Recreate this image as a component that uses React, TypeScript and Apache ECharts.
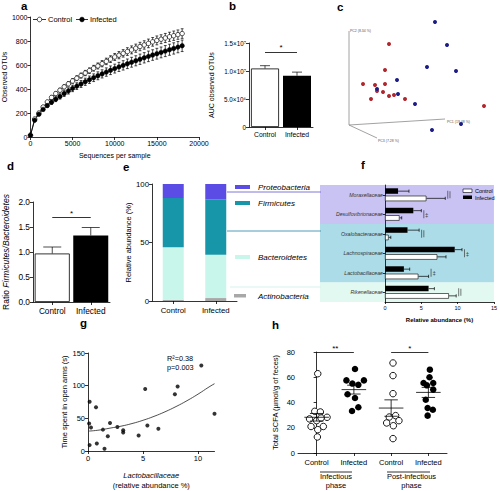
import React, { useEffect, useRef } from "react";
import * as echarts from "echarts";

const FONT = "'Liberation Sans', Arial, Helvetica, sans-serif";

// ---------- a: rarefaction curves ----------
const seqPerSample = [0, 500, 1000, 1500, 2000, 2500, 3000, 3500, 4000, 4500, 5000, 5500, 6000, 6500, 7000, 7500, 8000, 8500, 9000, 9500, 10000, 10500, 11000, 11500, 12000, 12500, 13000, 13500, 14000, 14500, 15000, 15500, 16000, 16500, 17000, 17500, 18000];
const otuControl = [15, 150, 200, 250, 292, 330, 362, 390, 418, 443, 467, 490, 512, 533, 553, 573, 592, 611, 630, 649, 667, 682, 697, 712, 726, 740, 754, 767, 780, 793, 805, 815, 825, 835, 844, 853, 862];
const otuControlSem = [0, 8, 10, 12, 13, 14, 15, 16, 17, 18, 19, 20, 21, 22, 23, 24, 25, 26, 27, 28, 29, 30, 31, 32, 33, 34, 35, 35, 36, 36, 37, 37, 38, 38, 39, 39, 40];
const otuInfected = [15, 140, 190, 230, 262, 290, 315, 338, 362, 384, 405, 424, 442, 460, 477, 494, 510, 526, 541, 556, 570, 584, 597, 610, 623, 635, 648, 660, 672, 683, 694, 705, 716, 727, 738, 749, 760];
const otuInfectedSem = [0, 10, 12, 14, 16, 18, 20, 22, 24, 26, 27, 28, 29, 30, 31, 32, 33, 34, 35, 36, 37, 38, 39, 40, 41, 42, 43, 43, 44, 44, 45, 45, 46, 46, 47, 47, 48];

// ---------- b: AUC ----------
const groups = ["Control", "Infected"];
const aucObserved = [1.045e7, 0.915e7];
const aucSem = [0.05e7, 0.065e7];
const aucSigLevel = 1.34e7;
const aucTickLabels: Record<number, string> = { 0: "0", 5000000: "5.0×10⁶", 10000000: "1.0×10⁷", 15000000: "1.5×10⁷" };

// ---------- c: PCoA (projected) ----------
const pcoaBlue = [[95, 123], [107, 100], [87, 78], [116, 74], [57, 65], [37, 56], [58, 51], [75, 41], [121, 21], [92, 15]];
const pcoaRed = [[49, 101], [45, 75], [23, 61], [35, 60], [45, 61], [37, 54], [43, 53], [49, 49], [54, 50], [31, 46], [65, 46], [144, 39]];
const pcoaAxisA = [[9, 114], [9, 20], [105, 26]];
const pcoaAxisB = [[9, 20], [37, 7]];

// ---------- d: F/B ratio ----------
const fbRatio = [0.97, 1.33];
const fbSem = [0.13, 0.16];
const fbSigLevel = 1.7;

// ---------- e: phyla ----------
const phyla = ["Proteobacteria", "Firmicutes", "Bacteroidetes", "Actinobacteria"];
const phylaColors = ["#5a4ce4", "#1795a9", "#c8f6ea", "#a8a8a8"];
const actinobacteria = [1, 2.5];
const bacteroidetes = [45, 37];
const firmicutes = [42, 47.5];
const proteobacteria = [12, 13];

// ---------- f: families ----------
const families = ["Moraxellaceae", "Desulfovibrionaceae", "Oxalobacteraceae", "Lachnospiraceae", "Lactobacillaceae", "Rikenellaceae"];
const famInfected = [1.8, 3.9, 3.1, 9.6, 2.6, 6.0];
const famInfectedSem = [1.5, 1.1, 1.6, 1.0, 0.8, 0.8];
const famControl = [5.7, 2.0, 0.5, 7.2, 4.6, 8.8];
const famControlSem = [2.6, 0.3, 0.3, 1.2, 1.4, 1.0];
const famSigMarks = ["||", "|‡", "||", "|‡", "|‡", "||"];

// ---------- g: correlation ----------
const lactoAbundance = [0.15, 0.73, 0.1, 0.27, 0.15, 0.8, 1.36, 1.5, 1.8, 2.0, 2.67, 3.2, 3.2, 4.6, 5.2, 5.4, 6.4, 7.9, 8.15, 10.3, 11.5];
const openArmsTime = [75.5, 67, 42, 36, 9, 11.6, 32.7, 3.5, 22.6, 42.8, 36.7, 31.7, 28.2, 23.7, 95, 39, 34, 87, 98.6, 130.8, 56.9];
const fitX = [0.1, 1, 2, 3, 4, 5, 6, 7, 8, 9, 10, 11, 11.5];
const fitY = [30.5, 32, 35, 38, 42, 47, 53, 60, 68, 77, 87, 98, 103];

// ---------- h: SCFA ----------
const scfaCategories = ["Control", "Infected", "Control", "Infected"];
const scfaCtrlInfectious = [62.8, 33, 32.5, 27, 25.6, 28.3, 27.7, 21, 21, 18.5, 12.7];
const jitCtrlInfectious = [0.03, -0.05, 0.1, -0.19, 0, 0.28, 0.12, -0.15, 0.18, 0.03, 0.02];
const scfaInfInfectious = [66.5, 57.5, 57.5, 55, 54, 46.5, 43.6, 36.2, 33.3];
const jitInfInfectious = [0.03, -0.2, 0.27, -0.04, 0.12, -0.17, 0.03, 0.12, -0.05];
const scfaCtrlPost = [71.3, 61.3, 47, 28.5, 29.6, 23.8, 21.6, 25.6, 11.4];
const jitCtrlPost = [0.05, 0.05, 0.05, -0.05, 0.12, -0.12, 0.06, 0.21, 0.05];
const scfaInfPost = [66, 60, 55.4, 55.4, 53.6, 50.2, 42.2, 35.6, 34.3, 29.6];
const jitInfPost = [0.04, 0.03, -0.13, 0.13, -0.04, 0.13, -0.07, -0.02, 0.12, -0.02];
const scfaMean = [28.3, 50.2, 35.6, 48.0];
const scfaSem = [3.0, 3.5, 6.5, 4.0];
const scfaSigLevel = 79.5;

const BLACK = "#000";
const plain = (v: number) => String(v);
const axLine = { show: true, lineStyle: { color: BLACK, width: 0.8 } };
const axTick = (len = 3) => ({ show: true, length: len, lineStyle: { color: BLACK, width: 0.8 } });
const lbl = (size: number, extra: any = {}) => ({ color: BLACK, fontSize: size, fontFamily: FONT, margin: 3, formatter: plain, ...extra });

const vErr = (capHalf: number, both: boolean) => (params: any, api: any) => {
  const x = api.value(0), y = api.value(1), e = api.value(2);
  if (!e) return { type: "group", children: [] };
  const hi = api.coord([x, y + e]);
  const lo = both ? api.coord([x, y - e]) : api.coord([x, y]);
  const st = { stroke: BLACK, lineWidth: 0.7 };
  const ch: any[] = [
    { type: "line", shape: { x1: hi[0], y1: hi[1], x2: lo[0], y2: lo[1] }, style: st },
    { type: "line", shape: { x1: hi[0] - capHalf, y1: hi[1], x2: hi[0] + capHalf, y2: hi[1] }, style: st },
  ];
  if (both) ch.push({ type: "line", shape: { x1: lo[0] - capHalf, y1: lo[1], x2: lo[0] + capHalf, y2: lo[1] }, style: st });
  return { type: "group", children: ch };
};

const hErr = (params: any, api: any) => {
  const v = api.value(0), c = api.value(1), e = api.value(2), s = api.value(3);
  const p0 = api.coord([v, c]);
  const p1 = api.coord([v + e, c]);
  const y = p0[1] + s * 3.6;
  const st = { stroke: BLACK, lineWidth: 0.7 };
  return {
    type: "group",
    children: [
      { type: "line", shape: { x1: p0[0], y1: y, x2: p1[0], y2: y }, style: st },
      { type: "line", shape: { x1: p1[0], y1: y - 1.6, x2: p1[0], y2: y + 1.6 }, style: st },
    ],
  };
};

const meanSem = (params: any, api: any) => {
  const x = api.value(0), m = api.value(1), s = api.value(2);
  const st = { stroke: BLACK, lineWidth: 0.8 };
  const ml = api.coord([x - 0.33, m]), mr = api.coord([x + 0.33, m]);
  const top = api.coord([x, m + s]), bot = api.coord([x, m - s]);
  const cw = api.coord([x + 0.18, m])[0] - api.coord([x, m])[0];
  return {
    type: "group",
    children: [
      { type: "line", shape: { x1: ml[0], y1: ml[1], x2: mr[0], y2: mr[1] }, style: st },
      { type: "line", shape: { x1: top[0], y1: top[1], x2: bot[0], y2: bot[1] }, style: st },
      { type: "line", shape: { x1: top[0] - cw, y1: top[1], x2: top[0] + cw, y2: top[1] }, style: st },
      { type: "line", shape: { x1: bot[0] - cw, y1: bot[1], x2: bot[0] + cw, y2: bot[1] }, style: st },
    ],
  };
};

const sigLine = (pairs: any[]) => ({
  silent: true,
  symbol: ["none", "none"],
  lineStyle: { color: BLACK, width: 0.8, type: "solid" },
  label: { show: true, position: "middle", formatter: "{b}", fontSize: 8, fontFamily: FONT, color: BLACK, distance: 0 },
  data: pairs,
});

const txt = (x: number, y: number, text: string, o: any = {}) => ({
  type: "text",
  x,
  y,
  silent: true,
  style: { text, fontFamily: FONT, fontSize: 7.5, fill: BLACK, align: "left", verticalAlign: "middle", ...o },
});
const hline = (x1: number, y: number, x2: number, color = BLACK, w = 0.8) => ({
  type: "line",
  silent: true,
  shape: { x1, y1: y, x2, y2: y },
  style: { stroke: color, lineWidth: w },
});
const vline = (x: number, y1: number, y2: number, color = BLACK, w = 0.7) => ({
  type: "line",
  silent: true,
  shape: { x1: x, y1, x2: x, y2 },
  style: { stroke: color, lineWidth: w },
});
const box = (x: number, y: number, w: number, h: number, fill: string, stroke?: string) => ({
  type: "rect",
  silent: true,
  shape: { x, y, width: w, height: h },
  style: { fill, stroke: stroke || null, lineWidth: stroke ? 0.6 : 0 },
});
const dot = (cx: number, cy: number, r: number, fill: string) => ({
  type: "circle",
  silent: true,
  z: 5,
  shape: { cx, cy, r },
  style: { fill, stroke: BLACK, lineWidth: 0.7 },
});

function buildOption(): any {
  const scatterPts = (vals: number[], jit: number[], idx: number) => vals.map((v, i) => [idx + jit[i], v]);
  return {
    animation: false,
    textStyle: { fontFamily: FONT },
    grid: [
      { left: 29, top: 17, width: 170, height: 120 },
      { left: 249, top: 43, width: 64, height: 84 },
      { left: 340, top: 15, width: 160, height: 130 },
      { left: 30, top: 202, width: 80, height: 100 },
      { left: 152, top: 184, width: 85, height: 117 },
      { left: 385, top: 185, width: 112, height: 117 },
      { left: 88, top: 353, width: 126.5, height: 100 },
      { left: 298, top: 352, width: 149, height: 101 },
    ],
    xAxis: [
      {
        gridIndex: 0, type: "value", min: 0, max: 20000, interval: 5000, splitLine: { show: false },
        axisLine: axLine, axisTick: axTick(), axisLabel: lbl(7),
        name: "Sequences per sample", nameLocation: "middle", nameGap: 15, nameTextStyle: { fontSize: 7, color: BLACK, fontFamily: FONT },
      },
      {
        gridIndex: 1, type: "category", data: groups, axisLine: axLine, axisTick: { ...axTick(), alignWithLabel: true },
        axisLabel: lbl(6.8, { margin: 4, formatter: undefined }),
      },
      { gridIndex: 2, type: "value", min: 0, max: 160, show: false },
      {
        gridIndex: 3, type: "category", data: groups, axisLine: axLine, axisTick: { ...axTick(), alignWithLabel: true },
        axisLabel: lbl(8.3, { margin: 5, formatter: undefined }),
      },
      {
        gridIndex: 4, type: "category", data: groups, axisLine: axLine, axisTick: { ...axTick(), alignWithLabel: true },
        axisLabel: lbl(7.8, { margin: 5, formatter: undefined }),
      },
      {
        gridIndex: 5, type: "value", min: 0, max: 15, interval: 5, splitLine: { show: false },
        axisLine: axLine, axisTick: axTick(2), axisLabel: lbl(5.5, { margin: 3 }),
        name: "Relative abundance (%)", nameLocation: "middle", nameGap: 15,
        nameTextStyle: { fontSize: 6, fontWeight: "bold", color: BLACK, fontFamily: FONT },
      },
      {
        gridIndex: 6, type: "value", min: 0, max: 11.5, interval: 5, splitLine: { show: false },
        axisLine: axLine,
        axisTick: { ...axTick(), customValues: [0, 5, 10] },
        axisLabel: lbl(7.5, { customValues: [0, 5, 10] }),
        name: "{i|Lactobacillaceae}\n(relative abundance %)", nameLocation: "middle", nameGap: 20,
        nameTextStyle: { fontSize: 7.5, color: BLACK, fontFamily: FONT, lineHeight: 9.5, rich: { i: { fontStyle: "italic", fontSize: 7.5, fontFamily: FONT, lineHeight: 9.5 } } },
      },
      {
        gridIndex: 7, type: "category", data: scfaCategories, axisLine: axLine, axisTick: { ...axTick(), alignWithLabel: true },
        axisLabel: lbl(7.5, { margin: 5, formatter: undefined }),
      },
      { gridIndex: 7, type: "value", min: -0.5, max: 3.5, show: false },
    ],
    yAxis: [
      {
        gridIndex: 0, type: "value", min: 0, max: 1000, interval: 200, splitLine: { show: false },
        axisLine: axLine, axisTick: axTick(), axisLabel: lbl(7),
        name: "Observed OTUs", nameLocation: "middle", nameGap: 22, nameTextStyle: { fontSize: 7, color: BLACK, fontFamily: FONT },
      },
      {
        gridIndex: 1, type: "value", min: 0, max: 1.5e7, interval: 5e6, splitLine: { show: false },
        axisLine: axLine, axisTick: axTick(),
        axisLabel: lbl(6.3, { formatter: (v: number) => aucTickLabels[v] ?? "" }),
        name: "AUC observed OTUs", nameLocation: "middle", nameGap: 34, nameTextStyle: { fontSize: 7, color: BLACK, fontFamily: FONT },
      },
      { gridIndex: 2, type: "value", min: 0, max: 130, show: false },
      {
        gridIndex: 3, type: "value", min: 0, max: 2, interval: 0.5, splitLine: { show: false },
        axisLine: axLine, axisTick: axTick(), axisLabel: lbl(8.3, { formatter: (v: number) => v.toFixed(1) }),
        name: "Ratio {i|Firmicutes/Bacteroidetes}", nameLocation: "middle", nameGap: 23,
        nameTextStyle: { fontSize: 8.5, color: BLACK, fontFamily: FONT, rich: { i: { fontStyle: "italic", fontSize: 8.5, fontFamily: FONT } } },
      },
      {
        gridIndex: 4, type: "value", min: 0, max: 100, interval: 50, splitLine: { show: false },
        axisLine: axLine, axisTick: axTick(), axisLabel: lbl(7.8),
        name: "Relative abundance (%)", nameLocation: "middle", nameGap: 20, nameTextStyle: { fontSize: 7.5, color: BLACK, fontFamily: FONT },
      },
      {
        gridIndex: 5, type: "category", data: families, inverse: true, axisLine: axLine, axisTick: { ...axTick(2), alignWithLabel: true },
        axisLabel: lbl(5.2, { fontStyle: "italic", color: "#333", margin: 2, formatter: undefined }),
      },
      {
        gridIndex: 6, type: "value", min: 0, max: 150, interval: 50, splitLine: { show: false },
        axisLine: axLine, axisTick: axTick(), axisLabel: lbl(7.5),
        name: "Time spent in open arms (s)", nameLocation: "middle", nameGap: 19, nameTextStyle: { fontSize: 7.5, color: BLACK, fontFamily: FONT },
      },
      {
        gridIndex: 7, type: "value", min: 0, max: 80, interval: 20, splitLine: { show: false },
        axisLine: axLine, axisTick: axTick(), axisLabel: lbl(7.5),
        name: "Total SCFA (µmol/g of feces)", nameLocation: "middle", nameGap: 19, nameTextStyle: { fontSize: 7.5, color: BLACK, fontFamily: FONT },
      },
    ],
    series: [
      // a
      {
        name: "Control", type: "line", xAxisIndex: 0, yAxisIndex: 0, z: 4,
        data: seqPerSample.map((x, i) => [x, otuControl[i]]),
        symbol: "circle", symbolSize: 4.5, lineStyle: { color: BLACK, width: 0.8 },
        itemStyle: { color: "#fff", borderColor: BLACK, borderWidth: 0.7 },
      },
      {
        name: "Infected", type: "line", xAxisIndex: 0, yAxisIndex: 0, z: 4,
        data: seqPerSample.map((x, i) => [x, otuInfected[i]]),
        symbol: "circle", symbolSize: 4.5, lineStyle: { color: BLACK, width: 0.8 },
        itemStyle: { color: BLACK, borderColor: BLACK, borderWidth: 0.5 },
      },
      {
        type: "custom", xAxisIndex: 0, yAxisIndex: 0, renderItem: vErr(1.4, true), z: 3,
        data: seqPerSample.map((x, i) => [x, otuControl[i], otuControlSem[i]]),
      },
      {
        type: "custom", xAxisIndex: 0, yAxisIndex: 0, renderItem: vErr(1.4, true), z: 3,
        data: seqPerSample.map((x, i) => [x, otuInfected[i], otuInfectedSem[i]]),
      },
      // b
      {
        type: "bar", xAxisIndex: 1, yAxisIndex: 1, barWidth: 28,
        data: aucObserved.map((v, i) => ({ value: v, itemStyle: i === 0 ? { color: "#fff", borderColor: BLACK, borderWidth: 0.8 } : { color: BLACK } })),
        markLine: sigLine([[{ coord: [0, aucSigLevel], name: "*" }, { coord: [1, aucSigLevel] }]]),
      },
      { type: "custom", xAxisIndex: 1, yAxisIndex: 1, renderItem: vErr(5, false), data: aucObserved.map((v, i) => [i, v, aucSem[i]]) },
      // c
      { type: "line", xAxisIndex: 2, yAxisIndex: 2, data: pcoaAxisA, symbol: "none", lineStyle: { color: "#8a8a8a", width: 0.8 } },
      { type: "line", xAxisIndex: 2, yAxisIndex: 2, data: pcoaAxisB, symbol: "none", lineStyle: { color: "#8a8a8a", width: 0.8 } },
      { type: "scatter", xAxisIndex: 2, yAxisIndex: 2, data: pcoaRed, symbolSize: 4, itemStyle: { color: "#b0262c", opacity: 1 } },
      { type: "scatter", xAxisIndex: 2, yAxisIndex: 2, data: pcoaBlue, symbolSize: 4, itemStyle: { color: "#1c1c86", opacity: 1 } },
      // d
      {
        type: "bar", xAxisIndex: 3, yAxisIndex: 3, barWidth: 35,
        data: fbRatio.map((v, i) => ({ value: v, itemStyle: i === 0 ? { color: "#fff", borderColor: BLACK, borderWidth: 0.8 } : { color: BLACK } })),
        markLine: sigLine([[{ coord: [0, fbSigLevel], name: "*" }, { coord: [1, fbSigLevel] }]]),
      },
      { type: "custom", xAxisIndex: 3, yAxisIndex: 3, renderItem: vErr(9, false), data: fbRatio.map((v, i) => [i, v, fbSem[i]]) },
      // e
      { type: "bar", xAxisIndex: 4, yAxisIndex: 4, stack: "phyla", barWidth: 21, data: actinobacteria, itemStyle: { color: phylaColors[3] } },
      { type: "bar", xAxisIndex: 4, yAxisIndex: 4, stack: "phyla", barWidth: 21, data: bacteroidetes, itemStyle: { color: phylaColors[2] } },
      { type: "bar", xAxisIndex: 4, yAxisIndex: 4, stack: "phyla", barWidth: 21, data: firmicutes, itemStyle: { color: phylaColors[1] } },
      { type: "bar", xAxisIndex: 4, yAxisIndex: 4, stack: "phyla", barWidth: 21, data: proteobacteria, itemStyle: { color: phylaColors[0] } },
      // f
      { type: "bar", xAxisIndex: 5, yAxisIndex: 5, barWidth: 5.5, barGap: "35%", data: famInfected, itemStyle: { color: BLACK } },
      { type: "bar", xAxisIndex: 5, yAxisIndex: 5, barWidth: 5.5, barGap: "35%", data: famControl, itemStyle: { color: "#fff", borderColor: BLACK, borderWidth: 0.6 } },
      { type: "custom", xAxisIndex: 5, yAxisIndex: 5, renderItem: hErr, data: famInfected.map((v, i) => [v, i, famInfectedSem[i], -1]) },
      { type: "custom", xAxisIndex: 5, yAxisIndex: 5, renderItem: hErr, data: famControl.map((v, i) => [v, i, famControlSem[i], 1]) },
      // g
      { type: "line", xAxisIndex: 6, yAxisIndex: 6, smooth: true, symbol: "none", data: fitX.map((x, i) => [x, fitY[i]]), lineStyle: { color: "#222", width: 0.8 } },
      { type: "scatter", xAxisIndex: 6, yAxisIndex: 6, symbolSize: 4, data: lactoAbundance.map((x, i) => [x, openArmsTime[i]]), itemStyle: { color: BLACK } },
      // h
      { type: "custom", xAxisIndex: 8, yAxisIndex: 7, renderItem: meanSem, z: 5, data: scfaMean.map((m, i) => [i, m, scfaSem[i]]) },
      {
        type: "scatter", xAxisIndex: 8, yAxisIndex: 7, symbolSize: 6.5, z: 4,
        data: [...scatterPts(scfaCtrlInfectious, jitCtrlInfectious, 0), ...scatterPts(scfaCtrlPost, jitCtrlPost, 2)],
        itemStyle: { color: "#fff", borderColor: BLACK, borderWidth: 0.9, opacity: 1 },
        markLine: sigLine([
          [{ coord: [0, scfaSigLevel], name: "**" }, { coord: [1, scfaSigLevel] }],
          [{ coord: [2, scfaSigLevel], name: "*" }, { coord: [3, scfaSigLevel] }],
        ]),
      },
      {
        type: "scatter", xAxisIndex: 8, yAxisIndex: 7, symbolSize: 6.5, z: 4,
        data: [...scatterPts(scfaInfInfectious, jitInfInfectious, 1), ...scatterPts(scfaInfPost, jitInfPost, 3)],
        itemStyle: { color: BLACK, opacity: 1 },
      },
    ],
  };
}

function staticGraphics(): any[] {
  const L = { fontSize: 11.5, fontWeight: "bold" };
  return [
    // panel letters
    txt(21, 6, "a", L), txt(229, 6, "b", L), txt(337, 6.5, "c", L), txt(7, 166, "d", L),
    txt(123, 167, "e", L), txt(361, 165, "f", L), txt(80, 323, "g", L), txt(272, 325, "h", L),
    // a legend
    hline(33, 19.5, 46), dot(39.5, 19.5, 2.3, "#fff"), txt(48, 19.5, "Control", { fontSize: 7.5 }),
    hline(76, 19.5, 88), dot(82, 19.5, 2.3, BLACK), txt(90, 19.5, "Infected", { fontSize: 7.5 }),
    // c axis labels
    txt(350, 31, "PC2 (8.34 %)", { fontSize: 3.5, fill: "#555" }),
    txt(447, 122, "PC1 (19.48 %)", { fontSize: 3.5, fill: "#555" }),
    txt(378, 141, "PC3 (7.28 %)", { fontSize: 3.5, fill: "#555" }),
    // e legend
    box(235, 185, 15, 4, phylaColors[0]), txt(258, 187, phyla[0], { fontSize: 8, fontStyle: "italic" }),
    box(235, 201, 15, 4, phylaColors[1]), txt(258, 203, phyla[1], { fontSize: 8, fontStyle: "italic" }),
    box(235, 255, 15, 4, phylaColors[2]), txt(258, 257, phyla[2], { fontSize: 8, fontStyle: "italic" }),
    box(234, 294, 12, 3.5, phylaColors[3]), txt(258, 296, phyla[3], { fontSize: 8, fontStyle: "italic" }),
    hline(227, 192, 321, "#7267d6", 0.9),
    hline(227, 231, 321, "#3c8fb1", 0.9),
    hline(230, 287, 321, "#d2f2ea", 0.9),
    // f legend
    box(463, 189, 9, 3.5, "#fff", BLACK), txt(475, 191, "Control", { fontSize: 5.5 }),
    box(463, 195.5, 9, 3.5, BLACK), txt(475, 197.5, "Infected", { fontSize: 5.5 }),
    // g annotations
    txt(167, 358, "R²=0.38", { fontSize: 7.3 }),
    txt(167, 367, "p=0.003", { fontSize: 7.3 }),
    // h group labels
    hline(320, 472, 352), hline(387, 472, 430),
    txt(336, 481, "Infectious\nphase", { fontSize: 7.5, align: "center", lineHeight: 9 }),
    txt(411.5, 481, "Post-infectious\nphase", { fontSize: 7.5, align: "center", lineHeight: 9 }),
  ];
}

export default function App() {
  const ref = useRef<HTMLDivElement>(null);
  useEffect(() => {
    document.body.style.margin = "0";
    if (!ref.current) return;
    const chart = echarts.init(ref.current, undefined, { renderer: "svg" });
    chart.setOption(buildOption());
    // background bands and significance marks for panel f, aligned on its axes
    const rowY = (i: number) => chart.convertToPixel({ yAxisIndex: 5 }, families[i]) as number;
    const band = Math.abs(rowY(1) - rowY(0));
    const rowTop = (i: number) => rowY(i) - band / 2;
    const xR = chart.convertToPixel({ xAxisIndex: 5 }, 15) as number;
    const xL = 320;
    const bands = [
      { from: 0, to: 1, color: "#c9c3f3" },
      { from: 2, to: 4, color: "#acdce8" },
      { from: 5, to: 5, color: "#e2f9f1" },
    ].map((b) => ({
      type: "rect",
      silent: true,
      z: -10,
      shape: { x: xL, y: rowTop(b.from), width: xR - xL, height: rowTop(b.to) + band - rowTop(b.from) },
      style: { fill: b.color },
    }));
    const marks: any[] = [];
    families.forEach((f, i) => {
      const end = Math.max(famInfected[i] + famInfectedSem[i], famControl[i] + famControlSem[i]);
      const x = (chart.convertToPixel({ xAxisIndex: 5 }, end) as number) + 2.5;
      const y = rowY(i);
      marks.push(vline(x, y - 4, y + 4, "#222", 0.6));
      if (famSigMarks[i] === "||") marks.push(vline(x + 2.2, y - 3.5, y + 3.5, "#222", 0.6));
      else marks.push(txt(x + 1.3, y + 0.5, "‡", { fontSize: 6, fill: "#222" }));
    });
    chart.setOption({ graphic: [...bands, ...staticGraphics(), ...marks] });
    return () => chart.dispose();
  }, []);
  return <div ref={ref} style={{ width: 500, height: 491 }} />;
}
